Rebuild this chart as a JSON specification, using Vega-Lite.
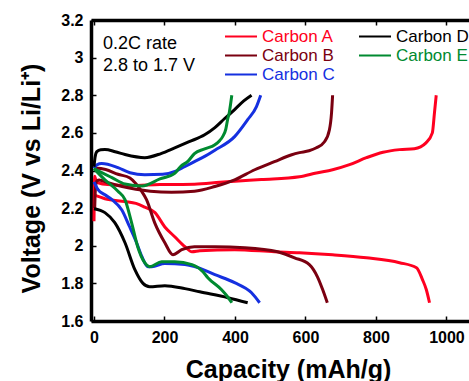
{
"$schema": "https://vega.github.io/schema/vega-lite/v6.json",
"width": 378, "height": 301,
"autosize": {"type": "none"},
"padding": {"left": 91, "top": 20, "right": 0, "bottom": 60},
"background": "white",
"config": {"view": {"stroke": null}, "font": "Liberation Sans"},
"datasets": {"curves": [
{"carbon":"Carbon A","curve":"charge","cap":0,"v":2.13},{"carbon":"Carbon A","curve":"charge","cap":1,"v":2.30},{"carbon":"Carbon A","curve":"charge","cap":2,"v":2.37},{"carbon":"Carbon A","curve":"charge","cap":5,"v":2.35},{"carbon":"Carbon A","curve":"charge","cap":12,"v":2.335},{"carbon":"Carbon A","curve":"charge","cap":40,"v":2.325},{"carbon":"Carbon A","curve":"charge","cap":100,"v":2.32},{"carbon":"Carbon A","curve":"charge","cap":187,"v":2.325},{"carbon":"Carbon A","curve":"charge","cap":285,"v":2.327},{"carbon":"Carbon A","curve":"charge","cap":357,"v":2.337},{"carbon":"Carbon A","curve":"charge","cap":400,"v":2.343},{"carbon":"Carbon A","curve":"charge","cap":475,"v":2.352},{"carbon":"Carbon A","curve":"charge","cap":583,"v":2.367},{"carbon":"Carbon A","curve":"charge","cap":631,"v":2.387},{"carbon":"Carbon A","curve":"charge","cap":677,"v":2.404},{"carbon":"Carbon A","curve":"charge","cap":725,"v":2.431},{"carbon":"Carbon A","curve":"charge","cap":773,"v":2.468},{"carbon":"Carbon A","curve":"charge","cap":820,"v":2.497},{"carbon":"Carbon A","curve":"charge","cap":867,"v":2.511},{"carbon":"Carbon A","curve":"charge","cap":909,"v":2.516},{"carbon":"Carbon A","curve":"charge","cap":942,"v":2.547},{"carbon":"Carbon A","curve":"charge","cap":960,"v":2.60},{"carbon":"Carbon A","curve":"charge","cap":966,"v":2.706},{"carbon":"Carbon A","curve":"charge","cap":971,"v":2.80},
{"carbon":"Carbon A","curve":"discharge","cap":0,"v":2.27},{"carbon":"Carbon A","curve":"discharge","cap":31,"v":2.25},{"carbon":"Carbon A","curve":"discharge","cap":88,"v":2.235},{"carbon":"Carbon A","curve":"discharge","cap":119,"v":2.225},{"carbon":"Carbon A","curve":"discharge","cap":144,"v":2.205},{"carbon":"Carbon A","curve":"discharge","cap":173,"v":2.176},{"carbon":"Carbon A","curve":"discharge","cap":201,"v":2.10},{"carbon":"Carbon A","curve":"discharge","cap":229,"v":2.048},{"carbon":"Carbon A","curve":"discharge","cap":258,"v":1.995},{"carbon":"Carbon A","curve":"discharge","cap":278,"v":1.968},{"carbon":"Carbon A","curve":"discharge","cap":300,"v":1.973},{"carbon":"Carbon A","curve":"discharge","cap":399,"v":1.979},{"carbon":"Carbon A","curve":"discharge","cap":512,"v":1.968},{"carbon":"Carbon A","curve":"discharge","cap":583,"v":1.963},{"carbon":"Carbon A","curve":"discharge","cap":677,"v":1.952},{"carbon":"Carbon A","curve":"discharge","cap":773,"v":1.936},{"carbon":"Carbon A","curve":"discharge","cap":867,"v":1.91},{"carbon":"Carbon A","curve":"discharge","cap":915,"v":1.883},{"carbon":"Carbon A","curve":"discharge","cap":932,"v":1.82},{"carbon":"Carbon A","curve":"discharge","cap":943,"v":1.766},{"carbon":"Carbon A","curve":"discharge","cap":952,"v":1.697},
{"carbon":"Carbon B","curve":"charge","cap":2,"v":2.20},{"carbon":"Carbon B","curve":"charge","cap":4,"v":2.30},{"carbon":"Carbon B","curve":"charge","cap":8,"v":2.345},{"carbon":"Carbon B","curve":"charge","cap":15,"v":2.35},{"carbon":"Carbon B","curve":"charge","cap":40,"v":2.335},{"carbon":"Carbon B","curve":"charge","cap":80,"v":2.315},{"carbon":"Carbon B","curve":"charge","cap":119,"v":2.30},{"carbon":"Carbon B","curve":"charge","cap":160,"v":2.29},{"carbon":"Carbon B","curve":"charge","cap":220,"v":2.285},{"carbon":"Carbon B","curve":"charge","cap":285,"v":2.29},{"carbon":"Carbon B","curve":"charge","cap":343,"v":2.315},{"carbon":"Carbon B","curve":"charge","cap":399,"v":2.35},{"carbon":"Carbon B","curve":"charge","cap":456,"v":2.404},{"carbon":"Carbon B","curve":"charge","cap":512,"v":2.447},{"carbon":"Carbon B","curve":"charge","cap":561,"v":2.484},{"carbon":"Carbon B","curve":"charge","cap":583,"v":2.495},{"carbon":"Carbon B","curve":"charge","cap":610,"v":2.505},{"carbon":"Carbon B","curve":"charge","cap":631,"v":2.521},{"carbon":"Carbon B","curve":"charge","cap":654,"v":2.553},{"carbon":"Carbon B","curve":"charge","cap":668,"v":2.617},{"carbon":"Carbon B","curve":"charge","cap":674,"v":2.707},{"carbon":"Carbon B","curve":"charge","cap":677,"v":2.80},
{"carbon":"Carbon B","curve":"discharge","cap":0,"v":2.41},{"carbon":"Carbon B","curve":"discharge","cap":10,"v":2.412},{"carbon":"Carbon B","curve":"discharge","cap":33,"v":2.405},{"carbon":"Carbon B","curve":"discharge","cap":68,"v":2.38},{"carbon":"Carbon B","curve":"discharge","cap":102,"v":2.36},{"carbon":"Carbon B","curve":"discharge","cap":119,"v":2.33},{"carbon":"Carbon B","curve":"discharge","cap":135,"v":2.29},{"carbon":"Carbon B","curve":"discharge","cap":149,"v":2.245},{"carbon":"Carbon B","curve":"discharge","cap":172,"v":2.123},{"carbon":"Carbon B","curve":"discharge","cap":201,"v":2.016},{"carbon":"Carbon B","curve":"discharge","cap":224,"v":1.952},{"carbon":"Carbon B","curve":"discharge","cap":249,"v":1.979},{"carbon":"Carbon B","curve":"discharge","cap":285,"v":1.995},{"carbon":"Carbon B","curve":"discharge","cap":343,"v":1.995},{"carbon":"Carbon B","curve":"discharge","cap":428,"v":1.99},{"carbon":"Carbon B","curve":"discharge","cap":521,"v":1.968},{"carbon":"Carbon B","curve":"discharge","cap":569,"v":1.936},{"carbon":"Carbon B","curve":"discharge","cap":611,"v":1.90},{"carbon":"Carbon B","curve":"discharge","cap":634,"v":1.835},{"carbon":"Carbon B","curve":"discharge","cap":649,"v":1.766},{"carbon":"Carbon B","curve":"discharge","cap":662,"v":1.697},
{"carbon":"Carbon C","curve":"charge","cap":0,"v":2.41},{"carbon":"Carbon C","curve":"charge","cap":8,"v":2.43},{"carbon":"Carbon C","curve":"charge","cap":22,"v":2.437},{"carbon":"Carbon C","curve":"charge","cap":68,"v":2.415},{"carbon":"Carbon C","curve":"charge","cap":102,"v":2.388},{"carbon":"Carbon C","curve":"charge","cap":144,"v":2.378},{"carbon":"Carbon C","curve":"charge","cap":195,"v":2.38},{"carbon":"Carbon C","curve":"charge","cap":230,"v":2.395},{"carbon":"Carbon C","curve":"charge","cap":257,"v":2.42},{"carbon":"Carbon C","curve":"charge","cap":285,"v":2.447},{"carbon":"Carbon C","curve":"charge","cap":314,"v":2.475},{"carbon":"Carbon C","curve":"charge","cap":343,"v":2.508},{"carbon":"Carbon C","curve":"charge","cap":399,"v":2.58},{"carbon":"Carbon C","curve":"charge","cap":436,"v":2.67},{"carbon":"Carbon C","curve":"charge","cap":461,"v":2.74},{"carbon":"Carbon C","curve":"charge","cap":473,"v":2.80},
{"carbon":"Carbon C","curve":"discharge","cap":0,"v":2.34},{"carbon":"Carbon C","curve":"discharge","cap":11,"v":2.30},{"carbon":"Carbon C","curve":"discharge","cap":30,"v":2.272},{"carbon":"Carbon C","curve":"discharge","cap":51,"v":2.245},{"carbon":"Carbon C","curve":"discharge","cap":79,"v":2.19},{"carbon":"Carbon C","curve":"discharge","cap":100,"v":2.105},{"carbon":"Carbon C","curve":"discharge","cap":120,"v":2.02},{"carbon":"Carbon C","curve":"discharge","cap":136,"v":1.942},{"carbon":"Carbon C","curve":"discharge","cap":153,"v":1.889},{"carbon":"Carbon C","curve":"discharge","cap":164,"v":1.889},{"carbon":"Carbon C","curve":"discharge","cap":201,"v":1.905},{"carbon":"Carbon C","curve":"discharge","cap":258,"v":1.90},{"carbon":"Carbon C","curve":"discharge","cap":285,"v":1.89},{"carbon":"Carbon C","curve":"discharge","cap":343,"v":1.846},{"carbon":"Carbon C","curve":"discharge","cap":399,"v":1.804},{"carbon":"Carbon C","curve":"discharge","cap":447,"v":1.75},{"carbon":"Carbon C","curve":"discharge","cap":470,"v":1.697},
{"carbon":"Carbon D","curve":"charge","cap":0,"v":2.42},{"carbon":"Carbon D","curve":"charge","cap":3,"v":2.47},{"carbon":"Carbon D","curve":"charge","cap":8,"v":2.50},{"carbon":"Carbon D","curve":"charge","cap":19,"v":2.51},{"carbon":"Carbon D","curve":"charge","cap":31,"v":2.511},{"carbon":"Carbon D","curve":"charge","cap":60,"v":2.50},{"carbon":"Carbon D","curve":"charge","cap":88,"v":2.485},{"carbon":"Carbon D","curve":"charge","cap":144,"v":2.468},{"carbon":"Carbon D","curve":"charge","cap":190,"v":2.49},{"carbon":"Carbon D","curve":"charge","cap":229,"v":2.52},{"carbon":"Carbon D","curve":"charge","cap":270,"v":2.553},{"carbon":"Carbon D","curve":"charge","cap":314,"v":2.59},{"carbon":"Carbon D","curve":"charge","cap":343,"v":2.628},{"carbon":"Carbon D","curve":"charge","cap":370,"v":2.675},{"carbon":"Carbon D","curve":"charge","cap":399,"v":2.724},{"carbon":"Carbon D","curve":"charge","cap":425,"v":2.77},{"carbon":"Carbon D","curve":"charge","cap":447,"v":2.80},
{"carbon":"Carbon D","curve":"discharge","cap":0,"v":2.197},{"carbon":"Carbon D","curve":"discharge","cap":31,"v":2.176},{"carbon":"Carbon D","curve":"discharge","cap":59,"v":2.123},{"carbon":"Carbon D","curve":"discharge","cap":88,"v":2.016},{"carbon":"Carbon D","curve":"discharge","cap":116,"v":1.873},{"carbon":"Carbon D","curve":"discharge","cap":139,"v":1.80},{"carbon":"Carbon D","curve":"discharge","cap":158,"v":1.782},{"carbon":"Carbon D","curve":"discharge","cap":201,"v":1.788},{"carbon":"Carbon D","curve":"discharge","cap":258,"v":1.772},{"carbon":"Carbon D","curve":"discharge","cap":300,"v":1.755},{"carbon":"Carbon D","curve":"discharge","cap":380,"v":1.724},{"carbon":"Carbon D","curve":"discharge","cap":436,"v":1.697},
{"carbon":"Carbon E","curve":"charge","cap":0,"v":2.41},{"carbon":"Carbon E","curve":"charge","cap":22,"v":2.389},{"carbon":"Carbon E","curve":"charge","cap":51,"v":2.362},{"carbon":"Carbon E","curve":"charge","cap":88,"v":2.328},{"carbon":"Carbon E","curve":"charge","cap":136,"v":2.318},{"carbon":"Carbon E","curve":"charge","cap":187,"v":2.355},{"carbon":"Carbon E","curve":"charge","cap":229,"v":2.385},{"carbon":"Carbon E","curve":"charge","cap":245,"v":2.42},{"carbon":"Carbon E","curve":"charge","cap":267,"v":2.45},{"carbon":"Carbon E","curve":"charge","cap":285,"v":2.49},{"carbon":"Carbon E","curve":"charge","cap":314,"v":2.515},{"carbon":"Carbon E","curve":"charge","cap":343,"v":2.537},{"carbon":"Carbon E","curve":"charge","cap":357,"v":2.56},{"carbon":"Carbon E","curve":"charge","cap":365,"v":2.58},{"carbon":"Carbon E","curve":"charge","cap":374,"v":2.62},{"carbon":"Carbon E","curve":"charge","cap":379,"v":2.67},{"carbon":"Carbon E","curve":"charge","cap":384,"v":2.71},{"carbon":"Carbon E","curve":"charge","cap":391,"v":2.80},
{"carbon":"Carbon E","curve":"discharge","cap":0,"v":2.41},{"carbon":"Carbon E","curve":"discharge","cap":31,"v":2.35},{"carbon":"Carbon E","curve":"discharge","cap":68,"v":2.29},{"carbon":"Carbon E","curve":"discharge","cap":88,"v":2.245},{"carbon":"Carbon E","curve":"discharge","cap":107,"v":2.12},{"carbon":"Carbon E","curve":"discharge","cap":124,"v":1.995},{"carbon":"Carbon E","curve":"discharge","cap":144,"v":1.91},{"carbon":"Carbon E","curve":"discharge","cap":158,"v":1.889},{"carbon":"Carbon E","curve":"discharge","cap":192,"v":1.915},{"carbon":"Carbon E","curve":"discharge","cap":229,"v":1.915},{"carbon":"Carbon E","curve":"discharge","cap":278,"v":1.90},{"carbon":"Carbon E","curve":"discharge","cap":309,"v":1.862},{"carbon":"Carbon E","curve":"discharge","cap":323,"v":1.83},{"carbon":"Carbon E","curve":"discharge","cap":362,"v":1.766},{"carbon":"Carbon E","curve":"discharge","cap":379,"v":1.729},{"carbon":"Carbon E","curve":"discharge","cap":391,"v":1.697}
]},
"data": {"name": "curves"},
"layer": [
 {"layer": [
  {"mark": {"type": "line", "strokeWidth": 3, "interpolate": "monotone"},
   "encoding": {
    "x": {"field": "cap", "type": "quantitative", "scale": {"domain": [-8.5, 1064], "nice": false, "zero": false},
      "axis": {"title": "Capacity (mAh/g)", "orient": "bottom", "values": [0,200,400,600,800,1000], "format": "d", "labelOverlap": false, "grid": false, "domainColor": "black", "domainWidth": 3.5, "tickColor": "black", "tickSize": -5, "tickWidth": 1.5, "labelFontSize": 16, "labelFontWeight": "bold", "labelColor": "black", "labelPadding": 13, "labelFont": "Liberation Sans", "titleFont": "Liberation Sans", "titleFontSize": 25, "titleFontWeight": "bold", "titleColor": "black", "titleX": 197, "titleY": 56, "titleAlign": "center", "titleBaseline": "alphabetic"}},
    "y": {"field": "v", "type": "quantitative", "scale": {"domain": [1.6, 3.2], "nice": false, "zero": false},
      "axis": {"title": "Voltage (V vs Li/Li⁺)", "values": [1.6,1.8,2,2.2,2.4,2.6,2.8,3,3.2], "format": ".1~f", "labelOverlap": false, "grid": false, "domainColor": "black", "domainWidth": 3.5, "tickColor": "black", "tickSize": -5, "tickWidth": 1.5, "labelFontSize": 16, "labelFontWeight": "bold", "labelColor": "black", "labelPadding": 13, "labelFont": "Liberation Sans", "titleFont": "Liberation Sans", "titleFontSize": 25, "titleFontWeight": "bold", "titleColor": "black", "titleX": -52, "titleY": 158, "titleAngle": -90, "titleAlign": "center", "titleBaseline": "alphabetic"}},
    "color": {"field": "carbon", "type": "nominal",
      "scale": {"domain": ["Carbon A","Carbon B","Carbon C","Carbon D","Carbon E"], "range": ["#ff0020","#7a0010","#1530e0","#000000","#008a30"]},
      "legend": {"orient": "none", "legendX": 133, "legendY": 8, "columns": 2, "title": null, "symbolType": "stroke", "symbolSize": 1024, "symbolStrokeWidth": 2, "clipHeight": 17, "labelFontSize": 17, "labelFont": "Liberation Sans", "labelOffset": 4, "rowPadding": 1, "columnPadding": 23, "padding": 0, "labelLimit": 0,
        "encode": {"labels": {"update": {"fill": {"scale": "color", "field": "value"}}}}}},
    "detail": {"field": "curve"}
   }},
  {"data": {"values": [{}]},
   "mark": {"type": "text", "align": "left", "baseline": "alphabetic", "fontSize": 18, "font": "Liberation Sans", "lineHeight": 22, "color": "black"},
   "encoding": {
    "x": {"datum": 25.5, "type": "quantitative",
      "axis": {"title": "Capacity (mAh/g)", "orient": "bottom", "values": [0,200,400,600,800,1000], "format": "d", "labelOverlap": false, "grid": false, "domainColor": "black", "domainWidth": 3.5, "tickColor": "black", "tickSize": -5, "tickWidth": 1.5, "labelFontSize": 16, "labelFontWeight": "bold", "labelColor": "black", "labelPadding": 13, "labelFont": "Liberation Sans", "titleFont": "Liberation Sans", "titleFontSize": 25, "titleFontWeight": "bold", "titleColor": "black", "titleX": 197, "titleY": 56, "titleAlign": "center", "titleBaseline": "alphabetic"}},
    "y": {"datum": 3.046, "type": "quantitative",
      "axis": {"title": "Voltage (V vs Li/Li⁺)", "values": [1.6,1.8,2,2.2,2.4,2.6,2.8,3,3.2], "format": ".1~f", "labelOverlap": false, "grid": false, "domainColor": "black", "domainWidth": 3.5, "tickColor": "black", "tickSize": -5, "tickWidth": 1.5, "labelFontSize": 16, "labelFontWeight": "bold", "labelColor": "black", "labelPadding": 13, "labelFont": "Liberation Sans", "titleFont": "Liberation Sans", "titleFontSize": 25, "titleFontWeight": "bold", "titleColor": "black", "titleX": -52, "titleY": 158, "titleAngle": -90, "titleAlign": "center", "titleBaseline": "alphabetic"}},
    "text": {"value": ["0.2C rate", "2.8 to 1.7 V"]}
   }}
 ]},
 {"mark": {"type": "point", "opacity": 0},
  "encoding": {
   "x": {"field": "cap", "type": "quantitative",
     "axis": {"orient": "top", "title": null, "labels": false, "values": [0,200,400,600,800,1000], "grid": false, "domainColor": "black", "domainWidth": 3.5, "tickColor": "black", "tickSize": -5, "tickWidth": 1.5}}
  }}
],
"resolve": {"axis": {"x": "independent"}}
}
